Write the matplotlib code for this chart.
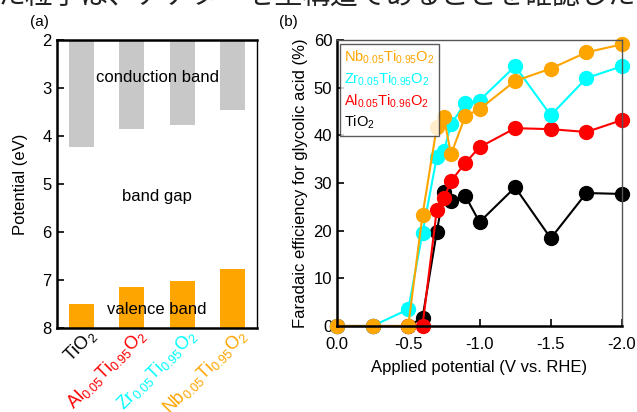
import numpy as np
import matplotlib
matplotlib.use('Agg')
import matplotlib.pyplot as plt
import matplotlib.transforms as mtransforms

plt.rcParams['font.family'] = ['Liberation Sans', 'DejaVu Sans']
plt.rcParams['mathtext.default'] = 'regular'

# (a) band positions
materials = ['TiO$_2$', 'Al$_{0.05}$Ti$_{0.95}$O$_2$',
             'Zr$_{0.05}$Ti$_{0.95}$O$_2$', 'Nb$_{0.05}$Ti$_{0.95}$O$_2$']
mat_colors = ['black', 'red', 'cyan', 'orange']
cb_edge = [4.22, 3.85, 3.77, 3.45]
vb_edge = [7.50, 7.15, 7.03, 6.77]

# (b) faradaic efficiency vs applied potential
pot_ti = [0.0, -0.25, -0.5, -0.6, -0.7, -0.75, -0.8, -0.9, -1.0, -1.25, -1.5, -1.75, -2.0]
fe_ti = [0, 0, 0, 1.7, 19.7, 28.1, 26.2, 27.3, 21.8, 29.1, 18.4, 27.9, 27.7]
fe_al = [0, 0, 0, 0, 24.3, 26.8, 30.4, 34.2, 37.5, 41.5, 41.3, 40.7, 43.2]
pot_zr = [0.0, -0.25, -0.5, -0.6, -0.7, -0.75, -0.8, -0.9, -1.0, -1.25, -1.5, -1.75, -2.0]
fe_zr = [0, 0, 3.5, 19.5, 35.4, 36.7, 42.3, 46.8, 47.3, 54.5, 44.2, 52.0, 54.5]
pot_nb = [0.0, -0.25, -0.5, -0.6, -0.7, -0.75, -0.8, -0.9, -1.0, -1.25, -1.5, -1.75, -2.0]
fe_nb = [0, 0, 0, 23.3, 41.7, 43.8, 36.0, 44.0, 45.5, 51.4, 54.0, 57.4, 59.1]

fig = plt.figure(figsize=(6.37, 4.12), dpi=100)

# clipped line of document text above the figure
fig.text(-0.005, 1 - 5/412, 'た粒子は、アナターゼ型構造であることを確認した',
         fontsize=20, family=['Noto Sans CJK JP', 'DejaVu Sans'],
         ha='left', va='baseline', color='#222222')

# ---- (a) ----
ax1 = fig.add_axes([57/637, 84/412, 200/637, 288/412])
x = np.arange(len(materials))
ax1.bar(x, np.array(cb_edge) - 2, bottom=2, width=0.5, color='#c8c8c8')
ax1.bar(x, np.array(vb_edge) - 8, bottom=8, width=0.5, color='orange')
ax1.set_ylim(8, 2)
ax1.set_xlim(-0.48, 3.48)
ax1.set_yticks(range(2, 9))
ax1.tick_params(axis='y', direction='in', labelsize=12, length=5, width=1.2, pad=4)
ax1.tick_params(axis='x', length=0, labelsize=13, pad=2)
ax1.set_xticks(x)
ax1.set_xticklabels(materials, rotation=45, ha='right', va='center',
                    rotation_mode='anchor')
shift = mtransforms.ScaledTranslation(0.12, -0.02, fig.dpi_scale_trans)
for lab, c in zip(ax1.get_xticklabels(), mat_colors):
    lab.set_color(c)
    lab.set_transform(lab.get_transform() + shift)
ax1.set_ylabel('Potential (eV)', fontsize=12, labelpad=10)
for s in ['left', 'bottom', 'top']:
    ax1.spines[s].set_linewidth(1.8)
ax1.spines['right'].set_linewidth(1.0)
ax1.text(1.5, 2.79, 'conduction band', ha='center', va='center', fontsize=12)
ax1.text(1.5, 5.25, 'band gap', ha='center', va='center', fontsize=12)
ax1.text(1.5, 7.62, 'valence band', ha='center', va='center', fontsize=12)
fig.text(39/637, 1 - 22/412, '(a)', fontsize=11, ha='center', va='center')

# ---- (b) ----
ax2 = fig.add_axes([337/637, 86/412, 285/637, 286/412])
ax2.plot(pot_ti, fe_ti, '-o', color='black', ms=10, lw=1.5, label='TiO$_2$')
ax2.plot(pot_ti, fe_al, '-o', color='red', ms=10, lw=1.5,
         label='Al$_{0.05}$Ti$_{0.96}$O$_2$')
ax2.plot(pot_zr, fe_zr, '-o', color='cyan', ms=10, lw=1.5,
         label='Zr$_{0.05}$Ti$_{0.95}$O$_2$')
ax2.plot(pot_nb, fe_nb, '-o', color='orange', ms=10, lw=1.5,
         label='Nb$_{0.05}$Ti$_{0.95}$O$_2$')
ax2.set_xlim(0, -2.0)
ax2.set_ylim(0, 60)
ax2.set_xticks([0, -0.5, -1.0, -1.5, -2.0])
ax2.set_xticklabels(['0.0', '-0.5', '-1.0', '-1.5', '-2.0'])
ax2.set_yticks(range(0, 61, 10))
ax2.tick_params(direction='in', labelsize=12, length=5, width=1.2)
ax2.tick_params(axis='x', pad=8)
ax2.set_xlabel('Applied potential (V vs. RHE)', fontsize=12, labelpad=6)
ax2.set_ylabel('Faradaic efficiency for glycolic acid (%)', fontsize=12)
for s in ['left', 'bottom']:
    ax2.spines[s].set_linewidth(1.8)
for s in ['top', 'right']:
    ax2.spines[s].set_color('#555555')
    ax2.spines[s].set_linewidth(1.0)
for line in ax2.lines:
    line.set_clip_on(False)

handles, labels = ax2.get_legend_handles_labels()
leg = ax2.legend(handles[::-1], labels[::-1], loc='upper left',
                 handlelength=0, handletextpad=0, markerscale=0,
                 fontsize=10.5, frameon=True, fancybox=False, borderpad=0.3,
                 labelspacing=0.3, borderaxespad=0,
                 bbox_to_anchor=(0.01, 0.985))
leg.get_frame().set_edgecolor('#333333')
leg.get_frame().set_linewidth(1.0)
for h in leg.legend_handles:
    h.set_visible(False)
for t, c in zip(leg.get_texts(), ['orange', 'cyan', 'red', 'black']):
    t.set_color(c)
fig.text(288/637, 1 - 22/412, '(b)', fontsize=11, ha='center', va='center')

fig.savefig('out.png', dpi=100)
